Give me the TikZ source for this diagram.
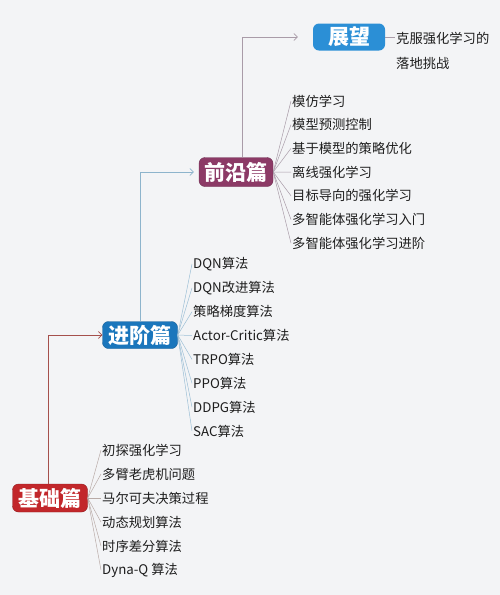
\documentclass[tikz,border=0pt]{standalone}
\usepackage{fontspec}
\setmainfont{Noto Sans CJK SC}
\usetikzlibrary{arrows.meta}

\definecolor{bgpaper}{HTML}{F3F4F6}
\definecolor{basered}{HTML}{C2272B}
\definecolor{advblue}{HTML}{1A76BC}
\definecolor{frontpurple}{HTML}{8C3A66}
\definecolor{outlookblue}{HTML}{2B8FD6}
\definecolor{leaftext}{HTML}{1E1E1E}
\definecolor{redlink}{HTML}{A5504C}
\definecolor{bluelink}{HTML}{8DB4CC}
\definecolor{purplelink}{HTML}{A99BA8}
\definecolor{redfan}{HTML}{B9ABA7}
\definecolor{bluefan}{HTML}{9CBFD6}

\tikzset{part/.style={rounded corners=6pt,minimum width=75pt,minimum height=28pt,inner sep=0pt,text=white,font=\fontsize{21}{23}\selectfont\bfseries},
  topic/.style={anchor=west,inner sep=1pt,text=leaftext,font=\fontsize{13.3}{15}\selectfont},
  link/.style={-{Straight Barb[length=3.5pt,width=7pt]},line width=0.6pt},
  fan/.style={line width=0.5pt}}

\begin{document}
\begin{tikzpicture}[x=1pt,y=-1pt]
  \fill[bgpaper] (0,0) rectangle (500,595);
  % the four parts
  \node[part,fill=basered,draw=basered!75!black] (base) at (50,498) {基础篇};
  \node[part,fill=advblue,draw=advblue!80!black,minimum height=27pt] (adv) at (140,335) {进阶篇};
  \node[part,fill=frontpurple,draw=frontpurple!80!black,minimum height=29pt,minimum width=74pt] (front) at (236,172) {前沿篇};
  \node[part,fill=outlookblue,minimum height=27pt,minimum width=72pt] (outlook) at (349,37) {展望};

  % chapters of each part
  \foreach \txt [count=\i] in {初探强化学习,多臂老虎机问题,马尔可夫决策过程,动态规划算法,时序差分算法,Dyna-Q 算法}
    \node[topic] (b\i) at (101,{426+24*\i}) {\txt};
  \foreach \txt [count=\i] in {DQN算法,DQN改进算法,策略梯度算法,Actor-Critic算法,TRPO算法,PPO算法,DDPG算法,SAC算法}
    \node[topic] (a\i) at (192,{240.15+23.85*\i}) {\txt};
  \foreach \txt [count=\i] in {模仿学习,模型预测控制,基于模型的策略优化,离线强化学习,目标导向的强化学习,多智能体强化学习入门,多智能体强化学习进阶}
    \node[topic] (f\i) at (291,{77.3+23.7*\i}) {\txt};
  \node[topic,anchor=base west,align=left,font=\fontsize{13.3}{25}\selectfont] (o1) at (395,68) {克服强化学习的\\落地挑战};

  \foreach \i in {1,...,6} \draw[fan,redfan] (base.east) -- (b\i.west);
  \foreach \i in {1,...,8} \draw[fan,bluefan] (adv.east) -- (a\i.west);
  \foreach \i in {1,...,7} \draw[fan,purplelink] (front.east) -- (f\i.west);
  \draw[fan,purplelink] (outlook.east) -- (outlook.east -| o1.west);

  % links between parts
  \draw[link,redlink] ([xshift=-2pt]base.north) |- (adv.west);
  \draw[link,bluelink,shorten >=5pt] (adv.north) |- (front.west);
  \draw[link,purplelink,shorten >=15pt] ([xshift=6pt]front.north) |- (outlook.west);
\end{tikzpicture}
\end{document}
